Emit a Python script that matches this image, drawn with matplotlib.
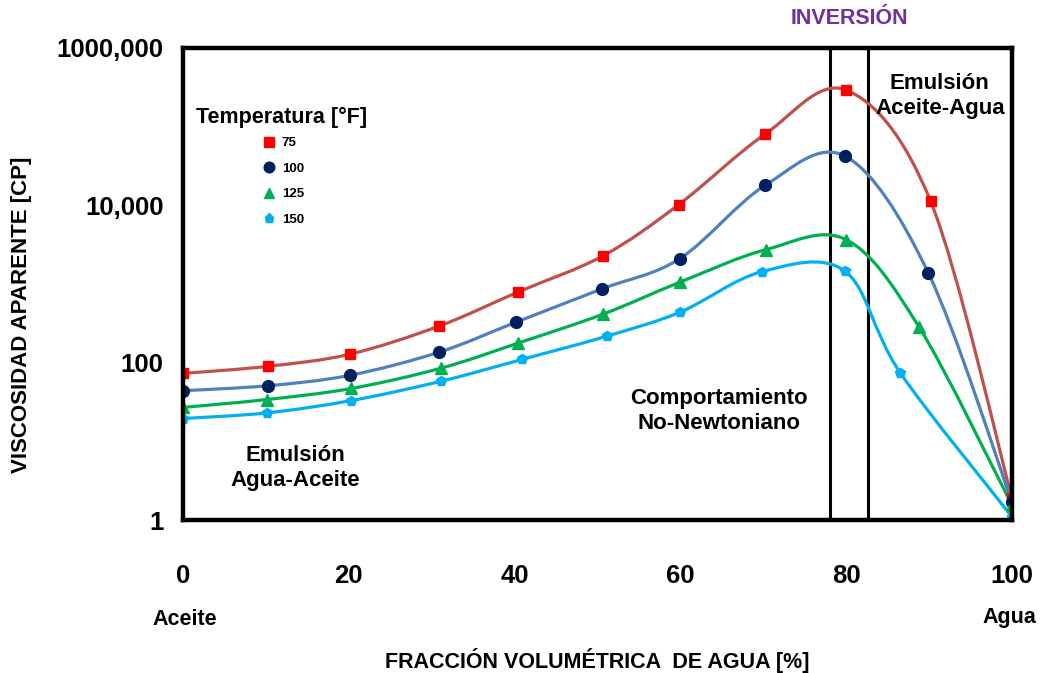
#!/usr/bin/env python3
import numpy as np
import matplotlib
matplotlib.use('Agg')
import matplotlib.pyplot as plt
from matplotlib.path import Path
from matplotlib.patches import PathPatch
from matplotlib.lines import Line2D

plt.rcParams['font.family'] = ['Liberation Sans', 'DejaVu Sans']
plt.rcParams['font.weight'] = 'bold'

# water fraction [%] and apparent viscosity [cP] for each temperature [F]
x_75 = [0, 10.3, 20.1, 30.9, 40.4, 50.7, 59.8, 70.2, 80.0, 90.2, 100]
mu_75 = [73, 90, 128, 292, 790, 2290, 10200, 80000, 292000, 11200, 1.9]

x_100 = [0, 10.3, 20.1, 30.9, 40.2, 50.5, 59.9, 70.2, 79.9, 89.9, 100]
mu_100 = [44, 51, 69, 136, 328, 865, 2090, 17900, 42000, 1390, 1.7]

x_125 = [0, 10.1, 20.3, 31.1, 40.4, 50.7, 60.0, 70.3, 80.0, 88.8, 100]
mu_125 = [27, 34, 47, 85, 177, 415, 1060, 2730, 3660, 283, 1.55]

x_150 = [0, 10.1, 20.3, 31.1, 40.9, 51.1, 60.0, 69.8, 79.8, 86.5, 100]
mu_150 = [19.5, 23, 33, 58, 110, 217, 440, 1430, 1470, 75, 1.1]

temps = ['75', '100', '125', '150']
inversion = [78.0, 82.6]

y_ticks = [1, 100, 1e4, 1e6]
y_ticklabels = ['1', '100', '10,000', '1000,000']
x_ticks = [0, 20, 40, 60, 80, 100]

series = [
    (x_75, mu_75, '#C0504D', '#FF0000', 's', 7.5),
    (x_100, mu_100, '#4F81BD', '#002060', 'o', 8.5),
    (x_125, mu_125, '#00B050', '#00B050', '^', 8.5),
    (x_150, mu_150, '#00B0F0', '#00B0F0', 'p', 7.5),
]


def smooth_path(x, y):
    # Catmull-Rom style bezier through the points, built in log10 space
    p = np.column_stack([x, np.log10(y)])
    ext = np.vstack([p[0], p, p[-1]])
    verts = [p[0]]
    codes = [Path.MOVETO]
    for i in range(len(p) - 1):
        p0, p1, p2, p3 = ext[i], ext[i + 1], ext[i + 2], ext[i + 3]
        c1 = p1 + (p2 - p0) / 6
        c2 = p2 - (p3 - p1) / 6
        verts += [c1, c2, p2]
        codes += [Path.CURVE4] * 3
    verts = np.array(verts)
    verts[:, 1] = 10 ** verts[:, 1]
    return Path(verts, codes)


fig = plt.figure(figsize=(10.44, 6.73), dpi=100)
ax = fig.add_axes([0.1753, 0.2273, 0.7940, 0.7014])
ax.set_yscale('log')
ax.set_xlim(0, 100)
ax.set_ylim(1, 1e6)

for x, y, lc, mc, mk, ms in series:
    ax.add_patch(PathPatch(smooth_path(x, y), fill=False, edgecolor=lc,
                           lw=2.3, zorder=3))
    ax.plot(x, y, linestyle='none', marker=mk, ms=ms, color=mc, mec=mc, zorder=4)

for xv in inversion:
    ax.axvline(xv, color='black', lw=2.2, zorder=2)

for s in ax.spines.values():
    s.set_linewidth(3.2)
    s.set_zorder(5)

ax.set_yticks(y_ticks)
ax.set_yticklabels(y_ticklabels)
ax.yaxis.set_minor_locator(matplotlib.ticker.NullLocator())
ax.set_xticks(x_ticks)
ax.tick_params(axis='both', length=0, labelsize=18.5)
ax.tick_params(axis='y', pad=14)
ax.tick_params(axis='x', pad=32)
for t in ax.get_xticklabels() + ax.get_yticklabels():
    t.set_fontweight('bold')

# legend: title as plain text, markers only below it
ax.text(0.016, 0.852, 'Temperatura [°F]', transform=ax.transAxes,
        fontsize=15.5, fontweight='bold', va='center', ha='left')
handles = [Line2D([], [], linestyle='none', marker=mk, ms=ms * 0.9, color=mc)
           for _, _, _, mc, mk, ms in series]
ax.legend(handles, temps, loc='upper left', bbox_to_anchor=(0.088, 0.825),
          frameon=False, borderpad=0, handlelength=1.0, handletextpad=0.45,
          labelspacing=1.0, prop={'size': 9.5, 'weight': 'bold'})

ax.text(0.913, 0.898, 'Emulsión\nAceite-Agua', transform=ax.transAxes,
        fontsize=16, fontweight='bold', ha='center', va='center', linespacing=1.25)
ax.text(0.6466, 0.231, 'Comportamiento\nNo-Newtoniano', transform=ax.transAxes,
        fontsize=16, fontweight='bold', ha='center', va='center', linespacing=1.25)
ax.text(0.136, 0.110, 'Emulsión\nAgua-Aceite', transform=ax.transAxes,
        fontsize=16, fontweight='bold', ha='center', va='center', linespacing=1.25)

fig.text(0.814, 0.973, 'INVERSIÓN', color='#7030A0', fontsize=15.5,
         fontweight='bold', ha='center', va='center')
fig.text(0.177, 0.079, 'Aceite', fontsize=15.5, fontweight='bold', ha='center', va='center')
fig.text(0.967, 0.083, 'Agua', fontsize=15.5, fontweight='bold', ha='center', va='center')
fig.text(0.572, 0.019, 'FRACCIÓN VOLUMÉTRICA  DE AGUA [%]', fontsize=15.5,
         fontweight='bold', ha='center', va='center')
fig.text(0.021, 0.532, 'VISCOSIDAD APARENTE [CP]', fontsize=16, fontweight='bold',
         rotation=90, ha='center', va='center')

fig.savefig('out.png', dpi=100)
